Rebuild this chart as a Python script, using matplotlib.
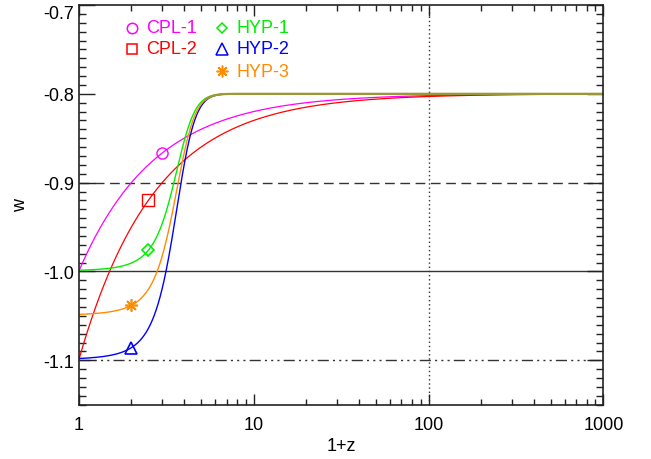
import numpy as np
import matplotlib
matplotlib.use("Agg")
import matplotlib.pyplot as plt
from matplotlib.ticker import LogLocator, MultipleLocator, FixedFormatter, FixedLocator

plt.rcParams['font.family'] = ['Liberation Sans', 'DejaVu Sans']

# CPL models: w = w0 + wa * z/(1+z)
cpl_names = ["CPL-1", "CPL-2"]
cpl_w0 = [-1.0, -1.1]
cpl_wa = [0.2, 0.3]
cpl_colors = ["#ff00ff", "#ff0000"]
cpl_markers = ["o", "s"]
cpl_msize = [8, 8.5]
cpl_mark_x = [3.0, 2.5]

# hyperbolic-tangent models: w goes from w0 to w_inf around 1+z = xt
hyp_names = ["HYP-1", "HYP-2", "HYP-3"]
hyp_w0 = [-1.0, -1.1, -1.05]
hyp_winf = [-0.8, -0.8, -0.8]
hyp_xt = [3.5, 3.5, 3.5]
hyp_dx = [1.0, 1.0, 1.0]
hyp_colors = ["#00ee00", "#0000ff", "#ff8c00"]
hyp_markers = ["D", "^", (8, 2, 0)]
hyp_msize = [5.8, 9, 9]
hyp_mark_x = [2.5, 2.0, 2.0]
merged_color = "#9c9838"

ref_w = [-0.9, -1.0, -1.1]
ref_styles = [(0, (7, 4)), "-", (0, (8, 3, 1.5, 3, 1.5, 3, 1.5, 3))]
ref_x = 100

xticks = [1, 10, 100, 1000]
xticklabels = ["1", "10", "100", "1000"]
yticks = [-1.1, -1.0, -0.9, -0.8, -0.7]
yticklabels = ["-1.1", "-1.0", "-0.9", "-0.8", "-0.7"]


def cpl(x, w0, wa):
    return w0 + wa * (1.0 - 1.0 / x)


def hyp(x, w0, winf, xt, dx):
    return w0 + (winf - w0) * 0.5 * (1.0 + np.tanh((x - xt) / dx))


fig = plt.figure(figsize=(6.51, 4.60), dpi=100)
ax = fig.add_axes([0.1209, 0.118, 0.8061, 0.869])

x = np.logspace(0, 3, 3000)

for w, ls in zip(ref_w, ref_styles):
    ax.axhline(w, color="#333333", lw=1.0, ls=ls, zorder=1)
ax.axvline(ref_x, color="#333333", lw=1.0, ls=(0, (1, 2)), zorder=1)

for w0, wa, c, m, ms, mx in zip(cpl_w0, cpl_wa, cpl_colors, cpl_markers, cpl_msize, cpl_mark_x):
    ax.plot(x, cpl(x, w0, wa), color=c, lw=0.9, zorder=2)
    ax.plot([mx], [cpl(mx, w0, wa)], ls="none", marker=m, ms=ms,
            mfc="none", mec=c, mew=1.0, zorder=3)

hyp_curves = []
for i in [1, 0, 2]:
    y = hyp(x, hyp_w0[i], hyp_winf[i], hyp_xt[i], hyp_dx[i])
    hyp_curves.append(y)
    ax.plot(x, y, color=hyp_colors[i], lw=1.0, zorder=2)

# where the three tanh curves sit on top of each other the colours blend
spread = np.ptp(np.vstack(hyp_curves), axis=0)
merged = spread < 0.003
ax.plot(x[merged], hyp_curves[-1][merged], color=merged_color, lw=1.6, zorder=2.5,
        solid_capstyle="butt")

for i in range(3):
    mx = hyp_mark_x[i]
    my = hyp(mx, hyp_w0[i], hyp_winf[i], hyp_xt[i], hyp_dx[i])
    ax.plot([mx], [my], ls="none", marker=hyp_markers[i], ms=hyp_msize[i],
            mfc="none", mec=hyp_colors[i], mew=1.2, zorder=3)

# legend drawn as marker + label pairs in two columns
entries = [(n, c, m, 0, r) for r, (n, c, m) in enumerate(zip(cpl_names, cpl_colors, cpl_markers))]
entries += [(n, c, m, 1, r) for r, (n, c, m) in enumerate(zip(hyp_names, hyp_colors, hyp_markers))]
legend_ms = {"o": 7.5, "s": 7.5, "D": 5.5, "^": 8}
col_x = [0.1010, 0.2735]
row_y = [0.9428, 0.8900, 0.8345]
for name, c, m, col, row in entries:
    ms = legend_ms.get(m, 8.5) if isinstance(m, str) else 8.5
    ax.plot([col_x[col]], [row_y[row]], transform=ax.transAxes, ls="none", marker=m,
            ms=ms, mfc="none", mec=c, mew=1.1, clip_on=False)
    ax.text(col_x[col] + 0.0267, row_y[row], name, transform=ax.transAxes, color=c,
            fontsize=13, va="center", ha="left")

ax.set_xscale("log")
ax.set_xlim(1, 1000)
ax.set_ylim(-1.15, -0.7)
ax.xaxis.set_major_locator(FixedLocator(xticks))
ax.xaxis.set_major_formatter(FixedFormatter(xticklabels))
ax.xaxis.set_minor_locator(LogLocator(base=10, subs=np.arange(2, 10)))
ax.xaxis.set_minor_formatter(plt.NullFormatter())
ax.yaxis.set_major_locator(FixedLocator(yticks))
ax.yaxis.set_major_formatter(FixedFormatter(yticklabels))
ax.yaxis.set_minor_locator(MultipleLocator(0.01))

ax.tick_params(axis="both", which="both", direction="in", top=True, right=True,
               width=1.0, color="#222222", labelsize=13)
ax.tick_params(axis="x", which="major", length=8, pad=8)
ax.tick_params(axis="x", which="minor", length=4)
ax.tick_params(axis="y", which="major", length=11.5, pad=3.5)
ax.tick_params(axis="y", which="minor", length=5)
for s in ax.spines.values():
    s.set_linewidth(1.2)
    s.set_color("#222222")

# keep the top label inside the figure
ax.yaxis.get_major_ticks()[-1].label1.set_verticalalignment("top")

ax.set_xlabel("1+z", fontsize=13, labelpad=3)
ax.set_ylabel("w", fontsize=13, labelpad=10)

fig.savefig("out.png", dpi=100)
